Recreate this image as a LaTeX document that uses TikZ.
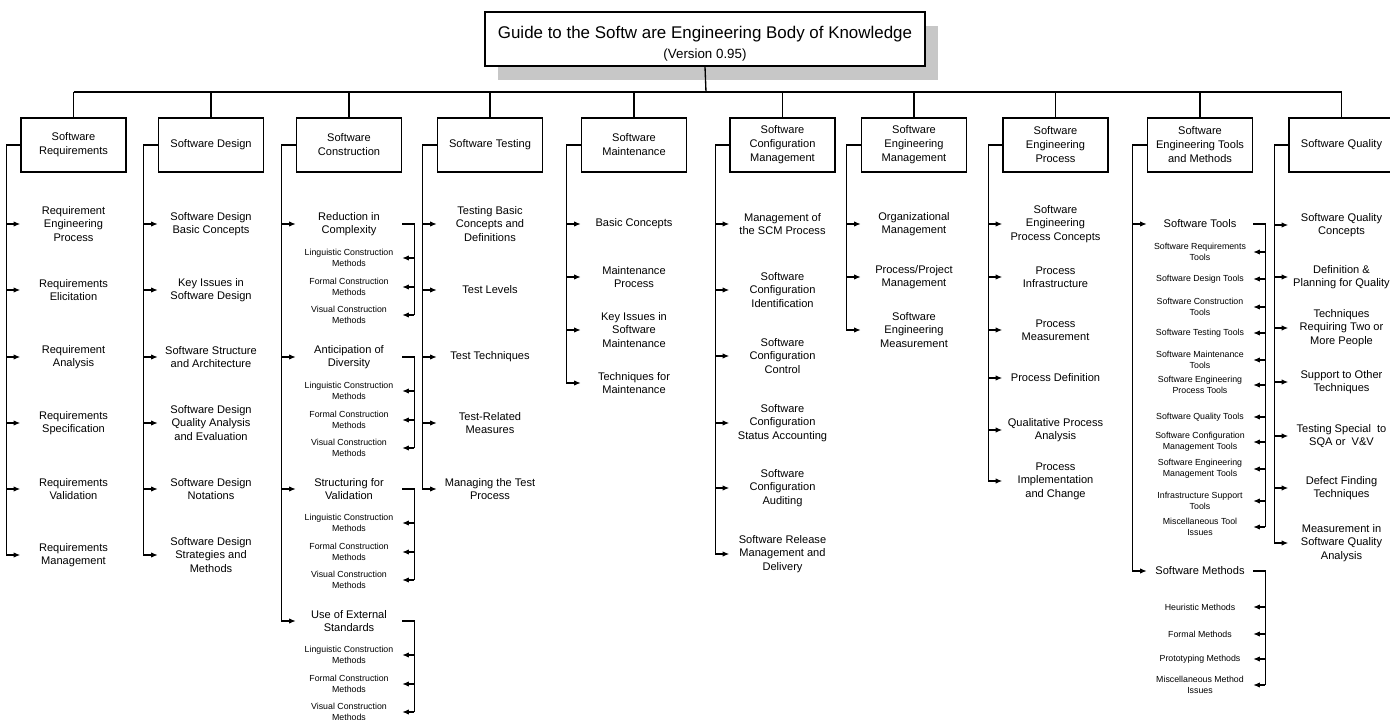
\documentclass[tikz,border=0pt]{standalone}
\usepackage{fontspec}
\setmainfont{Liberation Sans}
\usetikzlibrary{arrows.meta,shadows}

\tikzset{
	topic/.style={draw, line width=1.2pt, fill=white, minimum width=78.75pt, minimum height=40.5pt, inner sep=1pt, align=center, font=\fontsize{8.3}{10.5}\selectfont},
	area/.style={minimum width=78.75pt, inner sep=0pt, align=center, font=\fontsize{8.3}{10.1}\selectfont},
	subarea/.style={minimum width=78.75pt, inner sep=0pt, align=center, font=\fontsize{6.6}{8.2}\selectfont}
}

\begin{document}
\begin{tikzpicture}[x=0.75pt, y=-0.75pt, line width=1pt, >={Latex[length=5pt,width=4pt]}]
	\clip (0,0) rectangle (1390,720);
	\node[topic, minimum width=330pt, general shadow={fill=black!22, shadow xshift=9.75pt, shadow yshift=-10.5pt}] (title) at (705,39)
	{{\fontsize{12.7}{15}\selectfont\rule{0pt}{16pt}Guide to the Softw are Engineering Body of Knowledge}\\[4.75pt]{\fontsize{10}{12}\selectfont (Version 0.95)}};
	\coordinate (bus) at (706,92);
	\foreach \n/\x/\t in {req/73.5/{Software\\Requirements}, des/211/{Software Design}, con/349/{Software\\Construction}, tst/490/{Software Testing}, mnt/634/{Software\\Maintenance}, scm/782.5/{Software\\Configuration\\Management}, sem/914/{Software\\Engineering\\Management}, sep/1055.5/{Software\\Engineering\\Process}, tls/1200/{Software\\Engineering Tools\\and Methods}, qua/1341.5/{Software Quality}}
	{
		\node[topic] (\n) at (\x,145) {\t};
		\draw (\n.north) -- (\n.north |- bus);
	}
	\draw (title.south) -- (bus);
	\draw (req.north |- bus) -- (qua.north |- bus);

	\foreach \y/\t [count=\i] in {224/{Requirement\\Engineering\\Process}, 290/{Requirements\\Elicitation}, 357/{Requirement\\Analysis}, 423/{Requirements\\Specification}, 489/{Requirements\\Validation}, 555/{Requirements\\Management}}
		\node[area] (req-\i) at (req.center |- 0,\y) {\t};
	\foreach \y/\t [count=\i] in {224/{Software Design\\Basic Concepts}, 290/{Key Issues in\\Software Design}, 357/{Software Structure\\and Architecture}, 423/{Software Design\\Quality Analysis\\and Evaluation}, 489/{Software Design\\Notations}, 555/{Software Design\\Strategies and\\Methods}}
		\node[area] (des-\i) at (des.center |- 0,\y) {\t};
	\foreach \y/\t [count=\i] in {224/{Reduction in\\Complexity}, 357/{Anticipation of\\Diversity}, 489/{Structuring for\\Validation}, 621/{Use of External\\Standards}}
		\node[area] (con-\i) at (con.center |- 0,\y) {\t};
	\foreach \y/\t [count=\i] in {224/{Testing Basic\\Concepts and\\Definitions}, 290/{Test Levels}, 357/{Test Techniques}, 423/{Test-Related\\Measures}, 489/{Managing the Test\\Process}}
		\node[area] (tst-\i) at (tst.center |- 0,\y) {\t};
	\foreach \y/\t [count=\i] in {224/{Basic Concepts}, 277/{Maintenance\\Process}, 330/{Key Issues in\\Software\\Maintenance}, 383/{Techniques for\\Maintenance}}
		\node[area] (mnt-\i) at (mnt.center |- 0,\y) {\t};
	\foreach \y/\t [count=\i] in {224/{Management of\\the SCM Process}, 290/{Software\\Configuration\\Identification}, 356/{Software\\Configuration\\Control}, 423/{Software\\Configuration\\Status Accounting}, 488/{Software\\Configuration\\Auditing}, 554/{Software Release\\Management and\\Delivery}}
		\node[area] (scm-\i) at (scm.center |- 0,\y) {\t};
	\foreach \y/\t [count=\i] in {224/{Organizational\\Management}, 277/{Process/Project\\Management}, 330/{Software\\Engineering\\Measurement}}
		\node[area] (sem-\i) at (sem.center |- 0,\y) {\t};
	\foreach \y/\t [count=\i] in {224/{Software\\Engineering\\Process Concepts}, 277/{Process\\Infrastructure}, 330/{Process\\Measurement}, 378/{Process Definition}, 430/{Qualitative Process\\Analysis}, 481/{Process\\Implementation\\and Change}}
		\node[area] (sep-\i) at (sep.center |- 0,\y) {\t};
	\foreach \y/\t [count=\i] in {224/{Software Tools}, 571/{Software Methods}}
		\node[area] (tls-\i) at (tls.center |- 0,\y) {\t};
	\foreach \y/\t [count=\i] in {225/{Software Quality\\Concepts}, 277/{Definition \&\\Planning for Quality}, 328/{Techniques\\Requiring Two or\\More People}, 382/{Support to Other\\Techniques}, 436/{Testing Special\ \ to\\SQA or\ \ V\&V}, 488/{Defect Finding\\Techniques}, 543/{Measurement in\\Software Quality\\Analysis}}
		\node[area] (qua-\i) at (qua.center |- 0,\y) {\t};

	\foreach \n/\k in {req/6, des/6, con/4, tst/5, mnt/4, scm/6, sem/3, sep/6, tls/2, qua/7}
	{
		\draw (\n.west) -- ++(-14,0) |- ([xshift=-10.5pt]\n-\k.west);
		\foreach \i in {1,...,\k}
			\draw[->] ([xshift=-10.5pt]\n-\i.west) -- (\n-\i.west);
	}

	\foreach \i in {1,...,4}
		\foreach \d/\t [count=\j] in {34/Linguistic, 63/Formal, 91/Visual}
			\node[subarea] (con-\i-\j) at ([yshift=-\d*0.75pt]con-\i.center) {\t{} Construction\\Methods};
	\foreach \y/\t [count=\j] in {252/{Software Requirements\\Tools}, 279/{Software Design Tools}, 307/{Software Construction\\Tools}, 333/{Software Testing Tools}, 360/{Software Maintenance\\Tools}, 385/{Software Engineering\\Process Tools}, 417/{Software Quality Tools}, 442/{Software Configuration\\Management Tools}, 469/{Software Engineering\\Management Tools}, 501/{Infrastructure Support\\Tools}, 527/{Miscellaneous Tool\\Issues}}
		\node[subarea] (tls-1-\j) at (tls.center |- 0,\y) {\t};
	\foreach \y/\t [count=\j] in {607/{Heuristic Methods}, 634/{Formal Methods}, 659/{Prototyping Methods}, 685/{Miscellaneous Method\\Issues}}
		\node[subarea] (tls-2-\j) at (tls.center |- 0,\y) {\t};

	\foreach \m/\k in {con-1/3, con-2/3, con-3/3, con-4/3, tls-1/11, tls-2/4}
	{
		\draw (\m.east) -- ++(12,0) |- ([xshift=9pt]\m-\k.east);
		\foreach \j in {1,...,\k}
			\draw[->] ([xshift=9pt]\m-\j.east) -- (\m-\j.east);
	}
\end{tikzpicture}
\end{document}
